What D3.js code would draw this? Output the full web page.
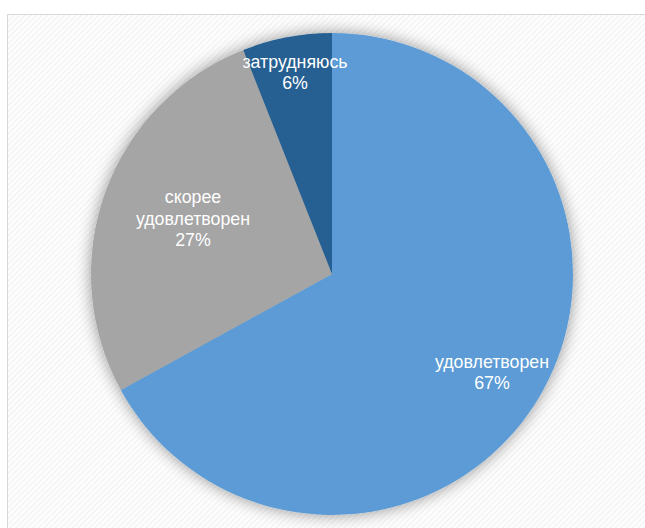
<!DOCTYPE html>
<html><head><meta charset="utf-8">
<script src="https://cdn.jsdelivr.net/npm/d3@7"></script>
<style>html,body{margin:0;padding:0;background:#fff;}svg{display:block;}</style>
</head><body>
<svg id="c" width="645" height="528"></svg>
<script>
const categories = ["удовлетворен", "скорее удовлетворен", "затрудняюсь"];
const values = [67, 27, 6];
const labelLines = [["удовлетворен", "67%"], ["скорее", "удовлетворен", "27%"], ["затрудняюсь", "6%"]];
const colors = ["#5B9BD5", "#A5A5A5", "#255E91"];

const svg = d3.select("#c");
const defs = svg.append("defs");
const pat = defs.append("pattern").attr("id", "hatch").attr("patternUnits", "userSpaceOnUse")
  .attr("width", 4).attr("height", 4).attr("patternTransform", "rotate(45)");
pat.append("rect").attr("width", 4).attr("height", 4).attr("fill", "#fdfdfd");
pat.append("line").attr("x1", 0).attr("y1", 0).attr("x2", 0).attr("y2", 4)
  .attr("stroke", "#ececec").attr("stroke-width", 1.5);
const f = defs.append("filter").attr("id", "sh").attr("x", "-20%").attr("y", "-20%").attr("width", "140%").attr("height", "140%");
f.append("feGaussianBlur").attr("in", "SourceAlpha").attr("stdDeviation", 8).attr("result", "b");
f.append("feComponentTransfer").attr("in", "b").attr("result", "b2")
  .append("feFuncA").attr("type", "linear").attr("slope", 0.42);
const m = f.append("feMerge");
m.append("feMergeNode").attr("in", "b2");
m.append("feMergeNode").attr("in", "SourceGraphic");

svg.append("rect").attr("x", 7.5).attr("y", 14.5).attr("width", 650).attr("height", 530)
  .attr("fill", "url(#hatch)").attr("stroke", "#d9d9d9").attr("stroke-width", 1);

const cx = 332, cy = 274, r = 241;
const pie = d3.pie().sort(null).value(d => d)(values);
const arc = d3.arc().innerRadius(0).outerRadius(r);
const g = svg.append("g").attr("transform", `translate(${cx},${cy})`);
const pg = g.append("g").attr("filter", "url(#sh)");
pg.selectAll("path").data(pie).join("path").attr("d", arc).attr("fill", (d, i) => colors[i]);

const labelPos = [[160, 98], [-139, -56], [-37, -202]];
pie.forEach((d, i) => {
  const lines = labelLines[i];
  const t = g.append("text").attr("text-anchor", "middle").attr("fill", "#fff")
    .attr("font-family", "Liberation Sans, Arial, sans-serif").attr("font-size", 17.8);
  lines.forEach((l, j) => {
    t.append("tspan").attr("x", labelPos[i][0]).attr("y", labelPos[i][1] + (j - (lines.length - 1) / 2) * 21.5 + 6.5).text(l);
  });
});
</script>
</body></html>
